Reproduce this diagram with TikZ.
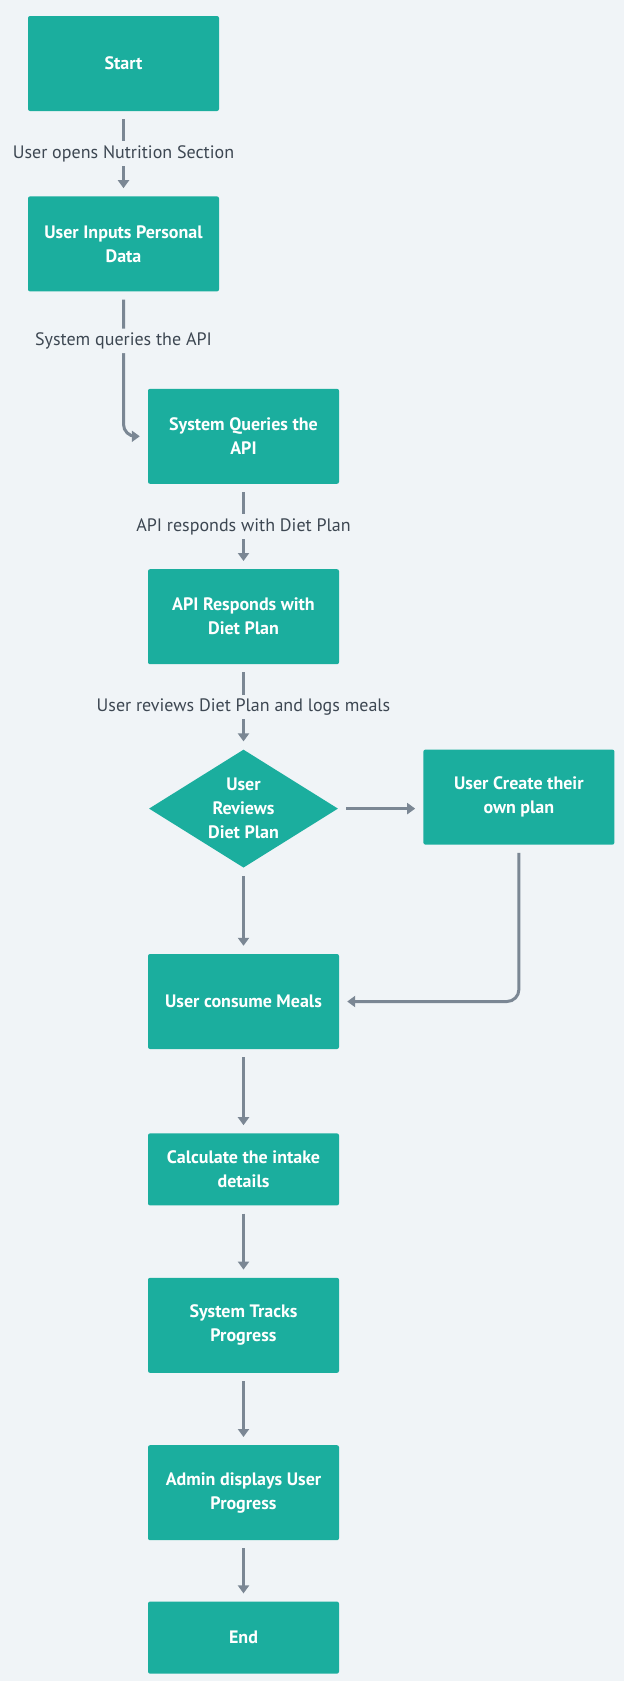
\documentclass[tikz,border=0pt]{standalone}
\usepackage{fontspec}
\setmainfont{PT Sans}
\usetikzlibrary{positioning,shapes.geometric,arrows.meta}

\definecolor{bgcol}{HTML}{F0F4F7}
\definecolor{boxcol}{HTML}{1BAE9E}
\definecolor{linecol}{HTML}{7B8794}
\definecolor{labelcol}{HTML}{3D4752}

\begin{document}
\begin{tikzpicture}[x=1pt, y=-1pt, node distance = {85pt},
	main/.style = {draw=none, fill=boxcol, rounded corners=2pt, text=white,
		font=\bfseries\fontsize{18}{24}\selectfont, align=center,
		minimum width=191pt, minimum height=95pt, inner sep=0pt},
	short/.style = {minimum height=72pt},
	check/.style = {diamond, aspect=1.6, fill=boxcol, text=white,
		font=\bfseries\fontsize{18}{24}\selectfont, align=center,
		minimum width=189pt, minimum height=118pt, inner sep=0pt},
	link/.style = {draw=linecol, line width=3pt, shorten <=8pt, shorten >=8pt,
		-{Triangle[width=11pt, length=8pt]}},
	lbl/.style = {fill=bgcol, text=labelcol, font=\fontsize{18}{22}\selectfont,
		inner sep=4pt}]
	\fill[bgcol] (0,0) rectangle (624,1681);
	\useasboundingbox (0,0) rectangle (624,1681);
	% nodes
	\node[main] (start) at (123.5,63.5) {Start};
	\node[main] (inputs) [below=of start] {User Inputs Personal\\Data};
	\node[main] (queries) [below=97pt of inputs, xshift=120pt] {System Queries the\\API};
	\node[main] (responds) [below=of queries] {API Responds with\\Diet Plan};
	\node[check] (review) [below=of responds] {User\\Reviews\\Diet Plan};
	\node[main] (create) [right=of review, yshift=11.5pt] {User Create their\\own plan};
	\node[main] (consume) [below=86pt of review] {User consume Meals};
	\node[main, short] (calc) [below=84pt of consume] {Calculate the intake\\details};
	\node[main] (tracks) [below=72pt of calc] {System Tracks\\Progress};
	\node[main] (admin) [below=72pt of tracks] {Admin displays User\\Progress};
	\node[main, short] (end) [below=61pt of admin] {End};
	% connectors
	\draw[link] (start) -- (inputs) node[lbl, midway] {User opens Nutrition Section};
	\draw[link, rounded corners=12pt] (inputs) |- (queries) node[lbl, pos=0.17] {System queries the API};
	\draw[link] (queries) -- (responds) node[lbl, midway] {API responds with Diet Plan};
	\draw[link] (responds) -- (review) node[lbl, midway] {User reviews Diet Plan and logs meals};
	\draw[link] (review.east) -- (review.east -| create.west);
	\draw[link] (review) -- (consume);
	\draw[link, rounded corners=12pt] (create) |- (consume);
	\draw[link] (consume) -- (calc);
	\draw[link] (calc) -- (tracks);
	\draw[link] (tracks) -- (admin);
	\draw[link] (admin) -- (end);
\end{tikzpicture}
\end{document}
